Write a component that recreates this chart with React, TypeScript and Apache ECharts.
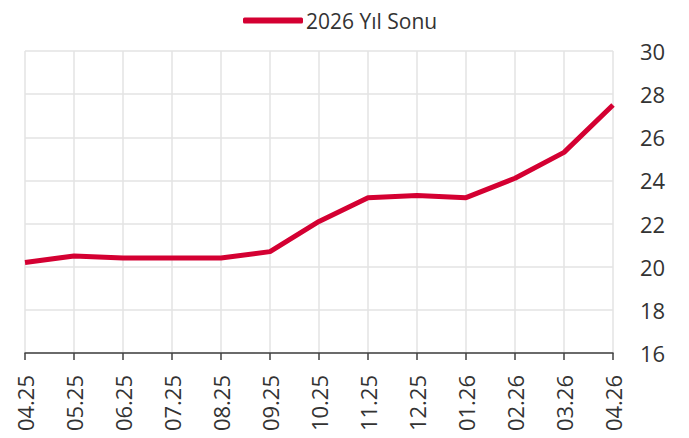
import React, { useEffect, useRef } from "react";
import * as echarts from "echarts";

const categories = ["04.25","05.25","06.25","07.25","08.25","09.25","10.25","11.25","12.25","01.26","02.26","03.26","04.26"];
const seriesName = "2026 Yıl Sonu";
const values = [20.2, 20.5, 20.4, 20.4, 20.4, 20.7, 22.1, 23.2, 23.3, 23.2, 24.1, 25.3, 27.5];
const yMin = 16;
const yMax = 30;
const yStep = 2;

export default function App() {
  const ref = useRef<HTMLDivElement>(null);
  useEffect(() => {
    if (!ref.current) return;
    const chart = echarts.init(ref.current, null, { renderer: "svg" });
    const font = "'Open Sans', 'Noto Sans', sans-serif";
    chart.setOption({
      animation: false,
      textStyle: { fontFamily: font },
      legend: {
        data: [{ name: seriesName, icon: "roundRect" }],
        top: 5,
        left: 238,
        itemWidth: 60,
        itemHeight: 6,
        itemGap: 4,
        textStyle: { fontSize: 21, color: "#333", fontFamily: font, padding: [0, 0, 0, -2] },
      },
      grid: { left: 25, right: 76, top: 51, bottom: 85, containLabel: false },
      xAxis: {
        type: "category",
        data: categories,
        boundaryGap: false,
        axisLine: { lineStyle: { color: "#404040", width: 1.5 } },
        axisTick: { show: true, length: 7, alignWithLabel: true, lineStyle: { color: "#404040", width: 1.5 } },
        axisLabel: { rotate: 90, fontSize: 22, color: "#333", margin: 22, fontFamily: font, interval: 0 },
        splitLine: { show: true, lineStyle: { color: "#e3e3e3", width: 1.5 } },
      },
      yAxis: {
        type: "value",
        position: "right",
        min: yMin,
        max: yMax,
        interval: yStep,
        axisLine: { show: false },
        axisTick: { show: false },
        axisLabel: { fontSize: 22, color: "#333", margin: 27, fontFamily: font },
        splitLine: { show: true, lineStyle: { color: "#e3e3e3", width: 1.5 } },
      },
      series: [
        {
          name: seriesName,
          type: "line",
          data: values,
          symbol: "none",
          lineStyle: { color: "#d40032", width: 5 },
          itemStyle: { color: "#d40032" },
        },
      ],
    });
    return () => chart.dispose();
  }, []);
  return <div ref={ref} style={{ width: 689, height: 438, position: "absolute", left: 0, top: 0 }} />;
}
